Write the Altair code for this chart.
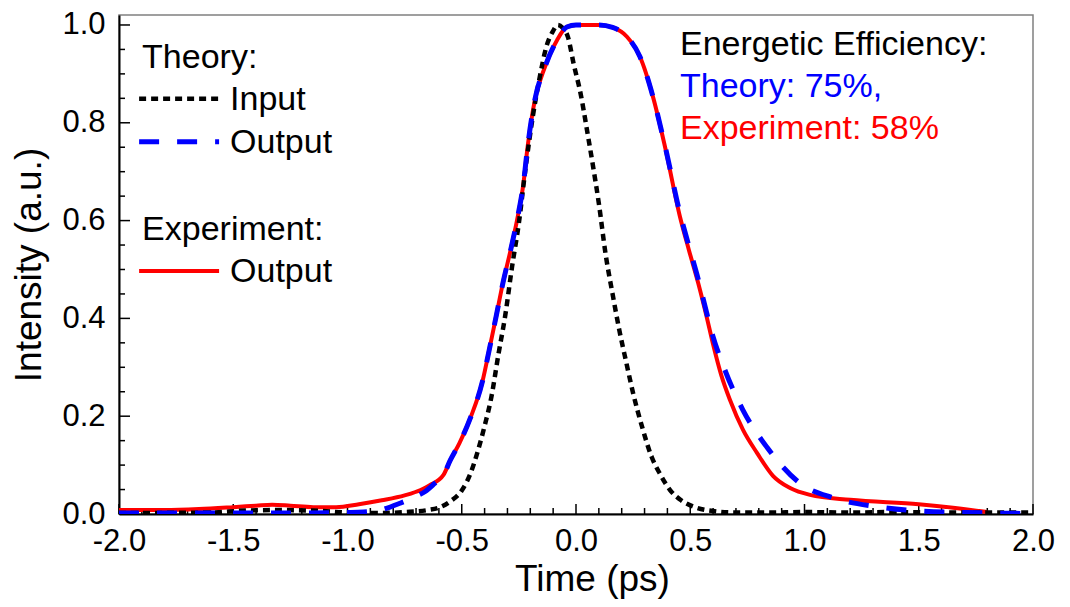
import altair as alt
import pandas as pd

# ---------------- data ----------------
# Theory: input pulse (black dotted)
input_t = [-2.0, -1.6, -1.45, -1.3, -1.15, -1.0, -0.85, -0.75, -0.65, -0.6, -0.55, -0.5,
           -0.46, -0.43, -0.4, -0.37, -0.34, -0.31, -0.28, -0.25, -0.22, -0.19, -0.16,
           -0.13, -0.1, -0.08, -0.06, -0.035, -0.01, 0.02, 0.05, 0.075, 0.1, 0.13, 0.16,
           0.19, 0.22, 0.25, 0.29, 0.33, 0.37, 0.41, 0.46, 0.52, 0.6, 0.7, 0.85, 1.0, 1.2,
           1.4, 1.6, 1.8, 2.0]
input_i = [0.002, 0.003, 0.007, 0.008, 0.007, 0.003, 0.002, 0.004, 0.008, 0.013, 0.026, 0.048,
           0.085, 0.128, 0.18, 0.24, 0.325, 0.405, 0.505, 0.595, 0.71, 0.81, 0.89,
           0.955, 0.988, 1.0, 0.995, 0.975, 0.92, 0.86, 0.78, 0.71, 0.635, 0.53, 0.45,
           0.375, 0.31, 0.247, 0.177, 0.118, 0.08, 0.05, 0.028, 0.014, 0.006, 0.003, 0.003, 0.004, 0.003,
           0.004, 0.003, 0.003, 0.003]

# Theory: output pulse (blue dashed)
theory_t = [-2.0, -1.5, -1.2, -1.0, -0.93, -0.85, -0.77, -0.7, -0.66, -0.62, -0.58, -0.55,
            -0.51, -0.46, -0.41, -0.38, -0.35, -0.32, -0.286, -0.255, -0.23, -0.212, -0.18,
            -0.136, -0.083, -0.04, 0.0, 0.1, 0.16, 0.223, 0.28, 0.337, 0.39, 0.455,
            0.494, 0.535, 0.57, 0.595, 0.652, 0.73, 0.835, 0.98, 1.125, 1.317, 1.505, 1.71, 2.0]
theory_i = [0.002, 0.002, 0.002, 0.003, 0.004, 0.009, 0.022, 0.036, 0.046, 0.062, 0.08, 0.11,
            0.145, 0.199, 0.27, 0.335, 0.403, 0.472, 0.54, 0.608, 0.676, 0.75, 0.847,
            0.914, 0.969, 0.996, 1.0, 1.0, 0.995, 0.976, 0.935, 0.853, 0.752, 0.615,
            0.548, 0.48, 0.415, 0.37, 0.294, 0.213, 0.137, 0.063, 0.033, 0.015, 0.006, 0.003, 0.001]

# Experiment: output pulse (red solid)
exp_t = [-2.0, -1.8, -1.65, -1.5, -1.4, -1.33, -1.25, -1.15, -1.05, -0.95, -0.85, -0.75,
         -0.68, -0.64, -0.58, -0.55, -0.51, -0.46, -0.41, -0.38, -0.35, -0.32, -0.286,
         -0.255, -0.23, -0.212, -0.18, -0.136, -0.083, -0.04, 0.0, 0.1, 0.16, 0.223, 0.28,
         0.337, 0.39, 0.455, 0.494, 0.535, 0.572, 0.601, 0.635, 0.674, 0.731, 0.792, 0.862,
         0.937, 1.024, 1.2, 1.5, 1.65, 1.8]
exp_i = [0.008, 0.008, 0.01, 0.014, 0.017, 0.019, 0.017, 0.014, 0.014, 0.02, 0.028, 0.038,
         0.049, 0.059, 0.08, 0.11, 0.145, 0.199, 0.27, 0.335, 0.403, 0.472, 0.54,
         0.608, 0.676, 0.75, 0.847, 0.914, 0.969, 0.996, 1.0, 1.0, 0.995, 0.976, 0.935,
         0.853, 0.75, 0.608, 0.54, 0.472, 0.403, 0.345, 0.285, 0.233, 0.172, 0.125, 0.078,
         0.053, 0.039, 0.029, 0.02, 0.013, 0.004]

x_ticks = [-2.0, -1.5, -1.0, -0.5, 0.0, 0.5, 1.0, 1.5, 2.0]
y_ticks = [0.0, 0.2, 0.4, 0.6, 0.8, 1.0]
x_minor = [round(-2 + 0.1 * k, 1) for k in range(41) if k % 5]
y_minor = [round(0.05 * k, 2) for k in range(21) if k % 4]

legend_labels = ["Theory:", "Input", "Output", "Experiment:", "Output"]
eff_labels = ["Energetic Efficiency:", "Theory: 75%,", "Experiment: 58%"]
eff_colors = ["#000000", "#0000ff", "#ff0000"]

# ---------------- layout / style ----------------
W, H = 914, 499
FONT = "Liberation Sans"
legend_x = [-1.899, -1.514, -1.514, -1.899, -1.514]
legend_y = [0.912, 0.826, 0.738, 0.560, 0.474]
sample_x, sample_x2 = -1.912, -1.562
sample_y = [0.849, 0.761, 0.497]
eff_x = 0.455
eff_y = [0.939, 0.853, 0.767]

BLACK_DASH = [7, 5]
BLUE_DASH = [20, 18]

xs = alt.Scale(domain=[-2, 2], nice=False, zero=False)
ys = alt.Scale(domain=[0, 1.0204], nice=False, zero=False)

minus_fix = "replace(format(datum.value, '.1f'), '\u2212', '-')"
xaxis = alt.Axis(title="Time (ps)", values=x_ticks, labelExpr=minus_fix, ticks=False, grid=False,
                 domainColor="black", domainWidth=2, labelFont=FONT, labelFontSize=31,
                 labelColor="black", labelPadding=12, labelFlush=False, labelOverlap=False,
                 titleFont=FONT, titleFontSize=37,
                 titleFontWeight="normal", titleColor="black", titleX=473, titleY=76,
                 titleAlign="center", titleBaseline="alphabetic")
yaxis = alt.Axis(title="Intensity (a.u.)", values=y_ticks, labelExpr=minus_fix, ticks=False, grid=False,
                 domainColor="black", domainWidth=2, labelFont=FONT, labelFontSize=31,
                 labelColor="black", labelPadding=14, labelFlush=False, labelOverlap=False,
                 titleFont=FONT, titleFontSize=37,
                 titleFontWeight="normal", titleColor="black", titleX=-79, titleY=249.5,
                 titleAngle=270, titleAlign="center", titleBaseline="alphabetic")

X = alt.X("t:Q", scale=xs, axis=xaxis)
Y = alt.Y("I:Q", scale=ys, axis=yaxis)


def curve(t, i, color, width, dash=None):
    kw = dict(color=color, strokeWidth=width, strokeCap="butt", clip=True, interpolate="monotone")
    if dash:
        kw["strokeDash"] = dash
    return alt.Chart(pd.DataFrame({"t": t, "I": i})).mark_line(**kw).encode(x=X, y=Y, order="t:Q")


def xtick_layer(vals, length):
    return alt.Chart(pd.DataFrame({"t": vals})).mark_rule(color="black", strokeWidth=1.5).encode(
        x=X, y=alt.value(H), y2=alt.value(H - length))


def ytick_layer(vals, length):
    return alt.Chart(pd.DataFrame({"I": vals})).mark_rule(color="black", strokeWidth=1.5).encode(
        y=Y, x=alt.value(0), x2=alt.value(length))


def sample(y, color, width, dash=None):
    kw = dict(color=color, strokeWidth=width, strokeCap="butt")
    if dash:
        kw["strokeDash"] = dash
    df = pd.DataFrame({"t": [sample_x], "t2": [sample_x2], "I": [y]})
    return alt.Chart(df).mark_rule(**kw).encode(x=X, x2="t2:Q", y=Y)


legend_text = alt.Chart(pd.DataFrame({"t": legend_x, "I": legend_y, "label": legend_labels})).mark_text(
    align="left", baseline="alphabetic", font=FONT, fontSize=34, color="black").encode(x=X, y=Y, text="label:N")

eff_text = alt.Chart(pd.DataFrame({"t": [eff_x] * 3, "I": eff_y, "label": eff_labels, "c": eff_colors})).mark_text(
    align="left", baseline="alphabetic", font=FONT, fontSize=34).encode(
    x=X, y=Y, text="label:N", color=alt.Color("c:N", scale=None))

chart = alt.layer(
    xtick_layer(x_ticks, 10), xtick_layer(x_minor, 6),
    ytick_layer(y_ticks, 11), ytick_layer(y_minor, 6),
    curve(exp_t, exp_i, "#ff0000", 4),
    curve(input_t, input_i, "#000000", 4.5, BLACK_DASH),
    curve(theory_t, theory_i, "#0000ff", 5, BLUE_DASH),
    sample(sample_y[0], "#000000", 4.5, BLACK_DASH),
    sample(sample_y[1], "#0000ff", 5, BLUE_DASH),
    sample(sample_y[2], "#ff0000", 4),
    legend_text, eff_text,
).properties(
    width=W, height=H,
    autosize=alt.AutoSizeParams(type="none"),
    padding={"left": 119, "top": 15, "right": 37, "bottom": 93},
    background="white",
).configure_view(stroke="#808080", strokeWidth=1.5)

chart.save("out.html", embed_options={"renderer": "svg", "actions": False})
